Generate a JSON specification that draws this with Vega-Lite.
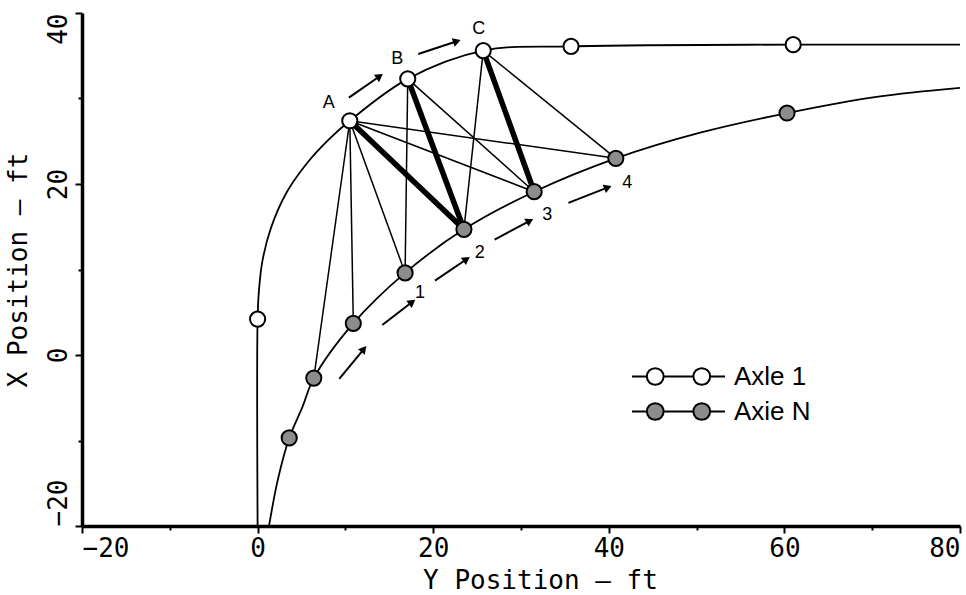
{
  "$schema": "https://vega.github.io/schema/vega-lite/v6.json",
  "width": 878,
  "height": 513,
  "autosize": "none",
  "padding": {"left": 82, "top": 13, "right": 6, "bottom": 69},
  "background": "white",
  "config": {
    "view": {"stroke": null},
    "axis": {
      "grid": false,
      "domainColor": "black",
      "domainWidth": 3.5,
      "tickColor": "black",
      "tickWidth": 2,
      "labelColor": "black",
      "titleColor": "black",
      "labelFont": "DejaVu Sans Mono",
      "titleFont": "DejaVu Sans Mono",
      "labelFontSize": 26,
      "titleFontSize": 26,
      "titleFontWeight": "normal"
    }
  },
  "datasets": {
    "curves": [
      {"series": "Axle 1", "Y": 0, "X": -20},
      {"series": "Axle 1", "Y": 0, "X": 4.2, "id": "a0"},
      {"series": "Axle 1", "Y": 0.15, "X": 7.5},
      {"series": "Axle 1", "Y": 0.55, "X": 11.0},
      {"series": "Axle 1", "Y": 1.5, "X": 14.8},
      {"series": "Axle 1", "Y": 3.3, "X": 19.0},
      {"series": "Axle 1", "Y": 5.6, "X": 22.4},
      {"series": "Axle 1", "Y": 8.0, "X": 25.1},
      {"series": "Axle 1", "Y": 10.5, "X": 27.4, "id": "A"},
      {"series": "Axle 1", "Y": 17.1, "X": 32.3, "id": "B"},
      {"series": "Axle 1", "Y": 25.7, "X": 35.6, "id": "C"},
      {"series": "Axle 1", "Y": 35.7, "X": 36.1, "id": "a4"},
      {"series": "Axle 1", "Y": 61.0, "X": 36.3, "id": "a5"},
      {"series": "Axle 1", "Y": 80, "X": 36.3},
      {"series": "Axie N", "Y": 1.3, "X": -20},
      {"series": "Axie N", "Y": 2.3, "X": -14.6},
      {"series": "Axie N", "Y": 3.6, "X": -9.7, "id": "n1"},
      {"series": "Axie N", "Y": 5.1, "X": -6.1},
      {"series": "Axie N", "Y": 6.4, "X": -2.7, "id": "n2"},
      {"series": "Axie N", "Y": 10.9, "X": 3.7, "id": "n3"},
      {"series": "Axie N", "Y": 16.8, "X": 9.6, "id": "n4"},
      {"series": "Axie N", "Y": 23.5, "X": 14.7, "id": "n5"},
      {"series": "Axie N", "Y": 31.5, "X": 19.1, "id": "n6"},
      {"series": "Axie N", "Y": 40.8, "X": 23.0, "id": "n7"},
      {"series": "Axie N", "Y": 50.4, "X": 26.0},
      {"series": "Axie N", "Y": 60.3, "X": 28.3, "id": "n8"},
      {"series": "Axie N", "Y": 70.5, "X": 30.2},
      {"series": "Axie N", "Y": 80, "X": 31.25}
    ],
    "ties": [
      {"from": "A", "to": "n2", "weight": "light"},
      {"from": "A", "to": "n3", "weight": "light"},
      {"from": "A", "to": "n4", "weight": "light"},
      {"from": "A", "to": "n5", "weight": "heavy"},
      {"from": "A", "to": "n6", "weight": "light"},
      {"from": "A", "to": "n7", "weight": "light"},
      {"from": "B", "to": "n4", "weight": "light"},
      {"from": "B", "to": "n5", "weight": "heavy"},
      {"from": "B", "to": "n6", "weight": "light"},
      {"from": "C", "to": "n5", "weight": "light"},
      {"from": "C", "to": "n6", "weight": "heavy"},
      {"from": "C", "to": "n7", "weight": "light"}
    ],
    "arrows": [
      {"fromY": 10.4, "fromX": 30.1, "toY": 13.9, "toX": 32.6, "heading": 54.6},
      {"fromY": 18.3, "fromX": 35.2, "toY": 22.7, "toX": 36.7, "heading": 71.6},
      {"fromY": 9.3, "fromX": -2.8, "toY": 12.1, "toX": 0.7, "heading": 39.8},
      {"fromY": 14.2, "fromX": 3.5, "toY": 17.6, "toX": 6.2, "heading": 52.5},
      {"fromY": 20.2, "fromX": 8.7, "toY": 23.8, "toX": 11.2, "heading": 55.5},
      {"fromY": 27.0, "fromX": 13.5, "toY": 31.0, "toX": 15.7, "heading": 61.5},
      {"fromY": 35.4, "fromX": 17.8, "toY": 39.9, "toX": 19.6, "heading": 68.2}
    ],
    "notes": [
      {"text": "A", "Y": 8.1, "X": 29.5},
      {"text": "B", "Y": 15.9, "X": 34.6},
      {"text": "C", "Y": 25.2, "X": 38.1},
      {"text": "1", "Y": 18.5, "X": 7.2},
      {"text": "2", "Y": 25.3, "X": 11.9},
      {"text": "3", "Y": 33.0, "X": 16.4},
      {"text": "4", "Y": 42.1, "X": 20.1}
    ]
  },
  "layer": [
    {
      "data": {"name": "curves"},
      "mark": {"type": "line", "color": "black", "strokeWidth": 1.8, "interpolate": "catmull-rom", "clip": true},
      "encoding": {
        "x": {
          "field": "Y", "type": "quantitative",
          "scale": {"domain": [-20, 80], "nice": false, "zero": false},
          "axis": {
            "title": "Y Position — ft",
            "values": [-20, -10, 0, 10, 20, 30, 40, 50, 60, 70, 80],
            "labelExpr": "datum.value % 20 === 0 ? datum.label : ''",
            "labelFlush": true,
            "tickSize": {"condition": {"test": "datum.value % 20 === 0", "value": 7}, "value": 4},
            "labelPadding": 2,
            "titleX": 458,
            "titlePadding": 6
          }
        },
        "y": {
          "field": "X", "type": "quantitative",
          "scale": {"domain": [-20, 40], "nice": false, "zero": false},
          "axis": {
            "title": "X Position — ft",
            "values": [-20, -10, 0, 10, 20, 30, 40],
            "labelExpr": "datum.value % 20 === 0 ? datum.label : ''",
            "tickSize": {"condition": {"test": "datum.value % 20 === 0", "value": 7}, "value": 4},
            "labelAngle": 270,
            "labelPadding": 4,
            "titlePadding": 14,
            "labelAlign": {"expr": "datum.value === 40 ? 'right' : datum.value === -20 ? 'left' : 'center'"},
            "labelBaseline": "bottom"
          }
        },
        "detail": {"field": "series"},
        "order": [{"field": "Y"}, {"field": "X"}]
      }
    },
    {
      "data": {"name": "ties"},
      "transform": [
        {"lookup": "from", "from": {"data": {"name": "curves"}, "key": "id", "fields": ["Y", "X"]}, "as": ["fY", "fX"]},
        {"lookup": "to", "from": {"data": {"name": "curves"}, "key": "id", "fields": ["Y", "X"]}, "as": ["tY", "tX"]}
      ],
      "mark": {"type": "rule", "color": "black"},
      "encoding": {
        "x": {"field": "fY", "type": "quantitative", "title": "Y Position — ft"},
        "y": {"field": "fX", "type": "quantitative", "title": "X Position — ft"},
        "x2": {"field": "tY"},
        "y2": {"field": "tX"},
        "strokeWidth": {"field": "weight", "type": "ordinal", "scale": {"domain": ["light", "heavy"], "range": [1.5, 5.5]}, "legend": null}
      }
    },
    {
      "data": {"name": "arrows"},
      "mark": {"type": "rule", "color": "black", "strokeWidth": 2},
      "encoding": {
        "x": {"field": "fromY", "type": "quantitative", "title": "Y Position — ft"},
        "y": {"field": "fromX", "type": "quantitative", "title": "X Position — ft"},
        "x2": {"field": "toY"},
        "y2": {"field": "toX"}
      }
    },
    {
      "data": {"name": "arrows"},
      "mark": {"type": "point", "shape": "triangle-up", "filled": true, "color": "black", "opacity": 1, "size": 80},
      "encoding": {
        "x": {"field": "toY", "type": "quantitative", "title": "Y Position — ft"},
        "y": {"field": "toX", "type": "quantitative", "title": "X Position — ft"},
        "angle": {"field": "heading", "type": "quantitative", "scale": null}
      }
    },
    {
      "data": {"name": "curves"},
      "transform": [{"filter": "datum.id != null"}],
      "mark": {"type": "point", "shape": "circle", "filled": true, "stroke": "black", "strokeWidth": 2, "opacity": 1, "size": 230},
      "encoding": {
        "x": {"field": "Y", "type": "quantitative", "title": "Y Position — ft"},
        "y": {"field": "X", "type": "quantitative", "title": "X Position — ft"},
        "fill": {
          "field": "series", "type": "nominal",
          "scale": {"domain": ["Axle 1", "Axie N"], "range": ["white", "#8c8c8c"]},
          "legend": {
            "orient": "none",
            "legendX": 549,
            "legendY": 347,
            "title": null,
            "padding": 0,
            "symbolType": "M-1,0L-0.68,0M-0.32,0L0.32,0M0.68,0L1,0M-0.32,0A0.18,0.18 0 1 1 -0.68,0A0.18,0.18 0 1 1 -0.32,0ZM0.68,0A0.18,0.18 0 1 1 0.32,0A0.18,0.18 0 1 1 0.68,0Z",
            "symbolSize": 8649,
            "symbolStrokeColor": "black",
            "symbolStrokeWidth": 2,
            "labelFont": "Liberation Sans",
            "labelFontSize": 26,
            "labelColor": "black",
            "labelOffset": 8,
            "clipHeight": 33,
            "rowPadding": 2
          }
        }
      }
    },
    {
      "data": {"name": "notes"},
      "mark": {"type": "text", "font": "Liberation Sans", "fontSize": 18, "color": "black", "align": "center", "baseline": "middle"},
      "encoding": {
        "x": {"field": "Y", "type": "quantitative", "title": "Y Position — ft"},
        "y": {"field": "X", "type": "quantitative", "title": "X Position — ft"},
        "text": {"field": "text"}
      }
    }
  ]
}
